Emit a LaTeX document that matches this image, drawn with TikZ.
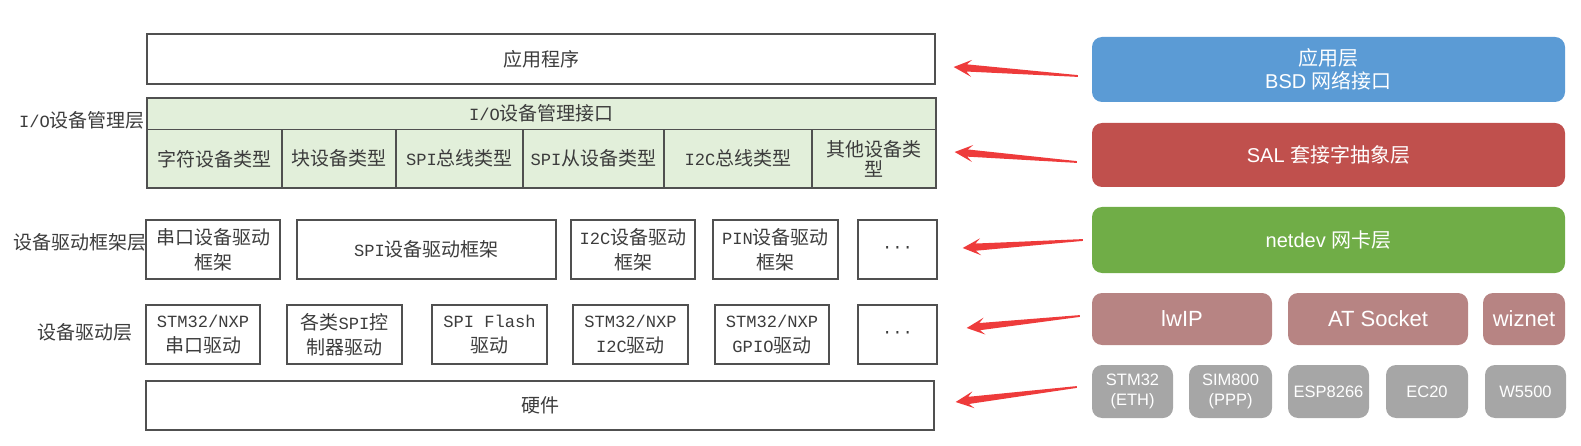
\documentclass[tikz,border=0pt]{standalone}
\usepackage{fontspec}
\usepackage{tikz}
\usetikzlibrary{calc}

\newfontfamily\zh{Noto Sans CJK SC}
\newfontfamily\mo[Scale=0.9]{Liberation Mono}
\newfontfamily\ar{Liberation Sans}
\newcommand{\la}[1]{{\mo #1}}
\newcommand{\lb}[1]{{\ar #1}}

\definecolor{edge}{HTML}{505050}
\definecolor{ink}{HTML}{3C3C3C}
\definecolor{iogreen}{HTML}{E2EFDA}
\definecolor{appblue}{HTML}{5B9BD5}
\definecolor{salred}{HTML}{C0504D}
\definecolor{netgreen}{HTML}{70AD47}
\definecolor{stackrose}{HTML}{B78483}
\definecolor{chipgray}{HTML}{A6A6A6}
\definecolor{arrowred}{HTML}{EE3B3B}

% tapered red pointer: #1 tip, #2 tail
\newcommand{\redarrow}[2]{%
  \coordinate (hb) at ($(#1)!18pt!(#2)$);
  \coordinate (nb) at ($(#1)!13pt!(#2)$);
  \fill[arrowred] (#1) -- ($(hb)!8.5pt!90:(#2)$) -- ($(nb)!3.6pt!90:(#2)$)
    -- ($(#2)!0.9pt!-90:(#1)$) -- ($(#2)!0.9pt!90:(#1)$)
    -- ($(nb)!3.6pt!-90:(#2)$) -- ($(hb)!8.5pt!-90:(#2)$) -- cycle;
}

\begin{document}
\begin{tikzpicture}[x=1pt,y=-1pt,
  every node/.style={text=ink, font=\fontsize{19}{25}\selectfont\zh, align=center, inner sep=0pt},
  box/.style={draw=edge, line width=1.3pt},
  cell/.style={box, fill=iogreen},
  tag/.style={anchor=east},
  layer/.style={rounded corners=10pt, text=white, font=\fontsize{20}{23}\selectfont\zh},
  stack/.style={layer, fill=stackrose, font=\fontsize{22}{24}\selectfont\ar},
  chip/.style={layer, fill=chipgray, font=\fontsize{16.5}{20}\selectfont\ar}]
\useasboundingbox (0,0) rectangle (1581,446);

% left: RT-Thread device layers
\node[box, minimum width=788, minimum height=50] (app) at (541,59) {应用程序};

\node[cell, minimum width=789, minimum height=31.5] (ioif) at (541.5,113.75) {\la{I/O}设备管理接口};
\node[cell, minimum width=135, minimum height=58.5] (chr) at (214.5,158.75) {字符设备类型};
\node[cell, minimum width=114, minimum height=58.5] (blk) at (339,158.75) {块设备类型};
\node[cell, minimum width=127, minimum height=58.5] (spib) at (459.5,158.75) {\la{SPI}总线类型};
\node[cell, minimum width=141, minimum height=58.5] (spis) at (593.5,158.75) {\la{SPI}从设备类型};
\node[cell, minimum width=148, minimum height=58.5] (i2cb) at (738,158.75) {\la{I2C}总线类型};
\node[cell, minimum width=124, minimum height=58.5, font=\fontsize{19}{20}\selectfont\zh] (oth) at (874,158.75) {其他设备类\\型};

\node[box, minimum width=134, minimum height=59] (fw1) at (213,249.5) {串口设备驱动\\框架};
\node[box, minimum width=259, minimum height=59] (fw2) at (426.5,249.5) {\la{SPI}设备驱动框架};
\node[box, minimum width=124, minimum height=59] (fw3) at (633,249.5) {\la{I2C}设备驱动\\框架};
\node[box, minimum width=125, minimum height=59] (fw4) at (775.5,249.5) {\la{PIN}设备驱动\\框架};
\node[box, minimum width=79, minimum height=59] (fw5) at (897.5,249.5) {\la{\textperiodcentered\textperiodcentered\textperiodcentered}};

\node[box, minimum width=114, minimum height=59] (dr1) at (203,334.5) {\la{STM32/NXP}\\串口驱动};
\node[box, minimum width=115, minimum height=59] (dr2) at (344.5,334.5) {各类\la{SPI}控\\制器驱动};
\node[box, minimum width=115, minimum height=59] (dr3) at (489.5,334.5) {\la{SPI Flash}\\驱动};
\node[box, minimum width=115, minimum height=59] (dr4) at (630.5,334.5) {\la{STM32/NXP}\\\la{I2C}驱动};
\node[box, minimum width=114, minimum height=59] (dr5) at (772,334.5) {\la{STM32/NXP}\\\la{GPIO}驱动};
\node[box, minimum width=79, minimum height=59] (dr6) at (897.5,334.5) {\la{\textperiodcentered\textperiodcentered\textperiodcentered}};

\node[box, minimum width=788, minimum height=49] (hw) at (540,405.5) {硬件};

\node[tag] (iolayer) at (145,120) {\la{I/O}设备管理层};
\node[tag] (fwlayer) at (147,242) {设备驱动框架层};
\node[tag] (drlayer) at (133,332) {设备驱动层};

% right: network stack
\node[layer, fill=appblue, minimum width=473, minimum height=65] (bsd) at (1328.5,69.5) {应用层\\\lb{BSD }网络接口};
\node[layer, fill=salred, minimum width=473, minimum height=64] (sal) at (1328.5,155) {\lb{SAL }套接字抽象层};
\node[layer, fill=netgreen, minimum width=473, minimum height=66] (net) at (1328.5,240) {\lb{netdev }网卡层};

\node[stack, minimum width=180, minimum height=52] (lwip) at (1182,319) {lwIP};
\node[stack, minimum width=180, minimum height=52] (atsock) at (1378,319) {AT Socket};
\node[stack, minimum width=82, minimum height=52] (wiz) at (1524,319) {wiznet};

\node[chip, minimum width=81, minimum height=53] (g1) at (1132.5,391.5) {STM32\\(ETH)};
\node[chip, minimum width=83, minimum height=53] (g2) at (1230.5,391.5) {SIM800\\(PPP)};
\node[chip, minimum width=81, minimum height=53] (g3) at (1328.5,391.5) {ESP8266};
\node[chip, minimum width=82, minimum height=53] (g4) at (1427,391.5) {EC20};
\node[chip, minimum width=81, minimum height=53] (g5) at (1525.5,391.5) {W5500};

% pointers
\coordinate (tip1) at ($(app.east)+(18,8)$);
\coordinate (tail1) at ($(bsd.west)+(-14,6.5)$);
\coordinate (tip2) at ($(oth.east)+(18,-6.75)$);
\coordinate (tail2) at ($(sal.west)+(-15,7)$);
\coordinate (tip3) at ($(fw5.east)+(25,-1.5)$);
\coordinate (tail3) at ($(net.west)+(-9,0)$);
\coordinate (tip4) at ($(dr6.east)+(29,-6.5)$);
\coordinate (tail4) at ($(lwip.west)+(-12,-3)$);
\coordinate (tip5) at ($(hw.east)+(21,-3.5)$);
\coordinate (tail5) at ($(g1.west)+(-15,-4.5)$);
\redarrow{tip1}{tail1}
\redarrow{tip2}{tail2}
\redarrow{tip3}{tail3}
\redarrow{tip4}{tail4}
\redarrow{tip5}{tail5}
\end{tikzpicture}
\end{document}
